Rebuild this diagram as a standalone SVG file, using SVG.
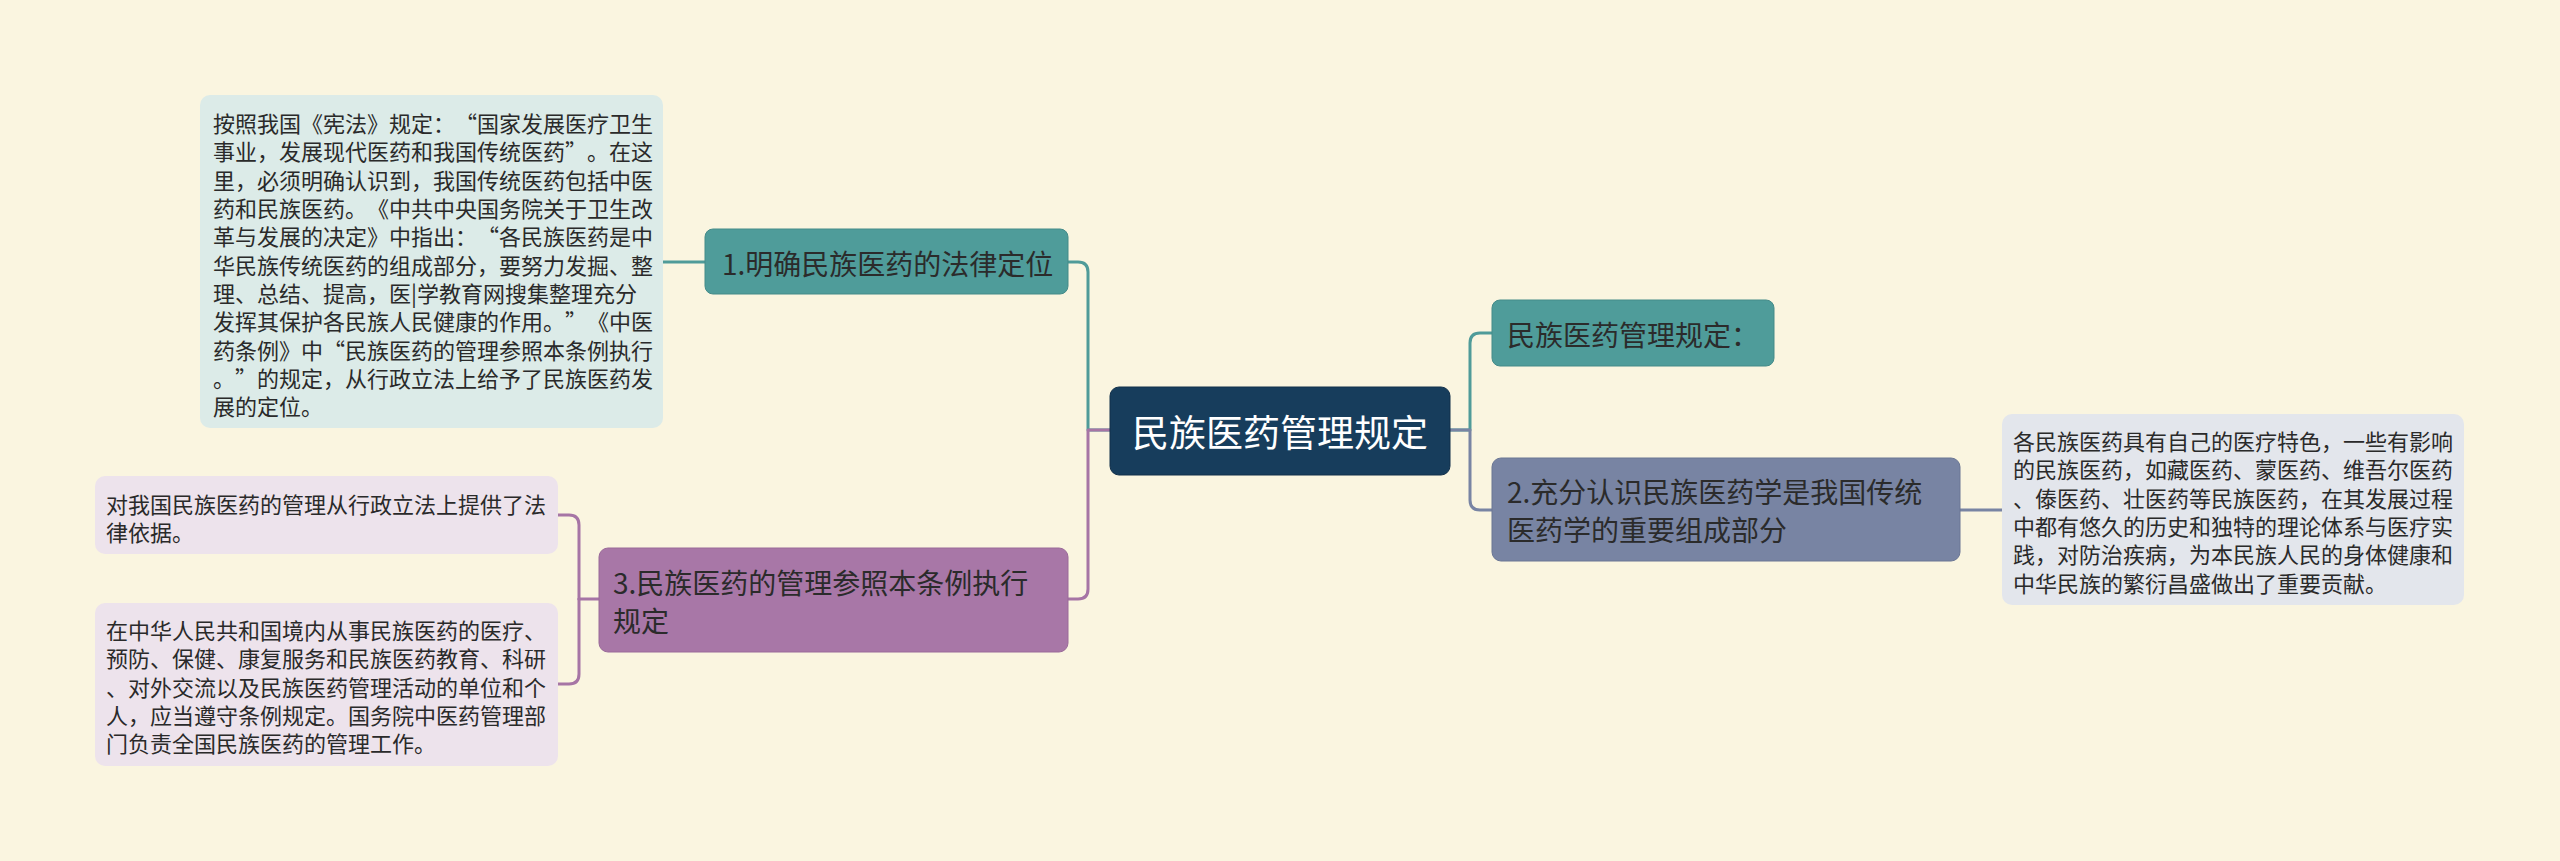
<svg xmlns="http://www.w3.org/2000/svg" width="2560" height="861" viewBox="0 0 2560 861">
<style>
text{font-family:"Noto Sans CJK SC","Noto Sans",sans-serif;dominant-baseline:central;text-spacing-trim:space-all;}
.fw{font-feature-settings:"fwid" 1;}
.t28{font-size:28px;fill:#2b2b2b;}
.t22{font-size:22px;fill:#2a2a2a;}
.root{font-size:37px;fill:#ffffff;}
.con{fill:none;stroke-width:3;stroke-linecap:round;stroke-linejoin:round;}
.teal{stroke:#4f9b99;}
.purp{stroke:#a675a5;}
.blue{stroke:#7884a3;}
</style>
<rect x="0" y="0" width="2560" height="861" fill="#faf5e0"/>
<g id="connectors">
  <path class="con teal" d="M705,262 H663"/>
  <path class="con teal" d="M1110,430 H1088 V272 Q1088,262 1078,262 H1068"/>
  <path class="con purp" d="M1110,430 H1088 V589 Q1088,599 1078,599 H1068"/>
  <path class="con purp" d="M599,599 H579"/>
  <path class="con purp" d="M579,599 V525 Q579,515 569,515 H558"/>
  <path class="con purp" d="M579,599 V674 Q579,684 569,684 H558"/>
  <path class="con teal" d="M1450,430 H1470 V343 Q1470,333 1480,333 H1492"/>
  <path class="con blue" d="M1450,430 H1470 V500 Q1470,510 1480,510 H1492"/>
  <path class="con blue" d="M1960,510 H2002"/>
</g>
<g id="root">
  <rect x="1110" y="387" width="340" height="88" rx="9" fill="#173d5c" stroke="#12304a" stroke-width="1"/>
  <text class="root" x="1132" y="431">民族医药管理规定</text>
</g>
<g id="node1">
  <rect x="705" y="229" width="363" height="65" rx="8" fill="#4f9c9a" stroke="#458b89" stroke-width="1"/>
  <text class="t28" x="722" y="263">1.明确民族医药的法律定位</text>
</g>
<g id="leaf1">
  <rect x="200" y="95" width="463" height="333" rx="10" fill="#dcebe8"/>
  <text class="t22" x="213" y="122">按照我国《宪法》规定：<tspan class="fw">“</tspan>国家发展医疗卫生</text>
  <text class="t22" x="213" y="150.3">事业，发展现代医药和我国传统医药<tspan class="fw">”</tspan>。在这</text>
  <text class="t22" x="213" y="178.7">里，必须明确认识到，我国传统医药包括中医</text>
  <text class="t22" x="213" y="207">药和民族医药。《中共中央国务院关于卫生改</text>
  <text class="t22" x="213" y="235.3">革与发展的决定》中指出：<tspan class="fw">“</tspan>各民族医药是中</text>
  <text class="t22" x="213" y="263.7">华民族传统医药的组成部分，要努力发掘、整</text>
  <text class="t22" x="213" y="292">理、总结、提高，医|学教育网搜集整理充分</text>
  <text class="t22" x="213" y="320.3">发挥其保护各民族人民健康的作用。<tspan class="fw">”</tspan>《中医</text>
  <text class="t22" x="213" y="348.7">药条例》中<tspan class="fw">“</tspan>民族医药的管理参照本条例执行</text>
  <text class="t22" x="213" y="377">。<tspan class="fw">”</tspan>的规定，从行政立法上给予了民族医药发</text>
  <text class="t22" x="213" y="405.3">展的定位。</text>
</g>
<g id="node3">
  <rect x="599" y="548" width="469" height="104" rx="9" fill="#a877a7" stroke="#9a6a99" stroke-width="1"/>
  <text class="t28" x="613" y="582">3.民族医药的管理参照本条例执行</text>
  <text class="t28" x="613" y="620">规定</text>
</g>
<g id="leaf3a">
  <rect x="95" y="476" width="463" height="78" rx="10" fill="#ede3ec"/>
  <text class="t22" x="106" y="503">对我国民族医药的管理从行政立法上提供了法</text>
  <text class="t22" x="106" y="531.3">律依据。</text>
</g>
<g id="leaf3b">
  <rect x="95" y="603" width="463" height="163" rx="10" fill="#ede3ec"/>
  <text class="t22" x="106" y="629">在中华人民共和国境内从事民族医药的医疗、</text>
  <text class="t22" x="106" y="657.3">预防、保健、康复服务和民族医药教育、科研</text>
  <text class="t22" x="106" y="685.7">、对外交流以及民族医药管理活动的单位和个</text>
  <text class="t22" x="106" y="714">人，应当遵守条例规定。国务院中医药管理部</text>
  <text class="t22" x="106" y="742.3">门负责全国民族医药的管理工作。</text>
</g>
<g id="node-rule">
  <rect x="1492" y="300" width="282" height="66" rx="8" fill="#4f9c9a" stroke="#458b89" stroke-width="1"/>
  <text class="t28" x="1507" y="334">民族医药管理规定：</text>
</g>
<g id="node2">
  <rect x="1492" y="458" width="468" height="103" rx="9" fill="#7884a3" stroke="#6a7694" stroke-width="1"/>
  <text class="t28" x="1507" y="491">2.充分认识民族医药学是我国传统</text>
  <text class="t28" x="1507" y="528.5">医药学的重要组成部分</text>
</g>
<g id="leaf2">
  <rect x="2002" y="414" width="462" height="191" rx="10" fill="#e3e6ec"/>
  <text class="t22" x="2013" y="440">各民族医药具有自己的医疗特色，一些有影响</text>
  <text class="t22" x="2013" y="468.3">的民族医药，如藏医药、蒙医药、维吾尔医药</text>
  <text class="t22" x="2013" y="496.7">、傣医药、壮医药等民族医药，在其发展过程</text>
  <text class="t22" x="2013" y="525">中都有悠久的历史和独特的理论体系与医疗实</text>
  <text class="t22" x="2013" y="553.3">践，对防治疾病，为本民族人民的身体健康和</text>
  <text class="t22" x="2013" y="581.7">中华民族的繁衍昌盛做出了重要贡献。</text>
</g>
</svg>
